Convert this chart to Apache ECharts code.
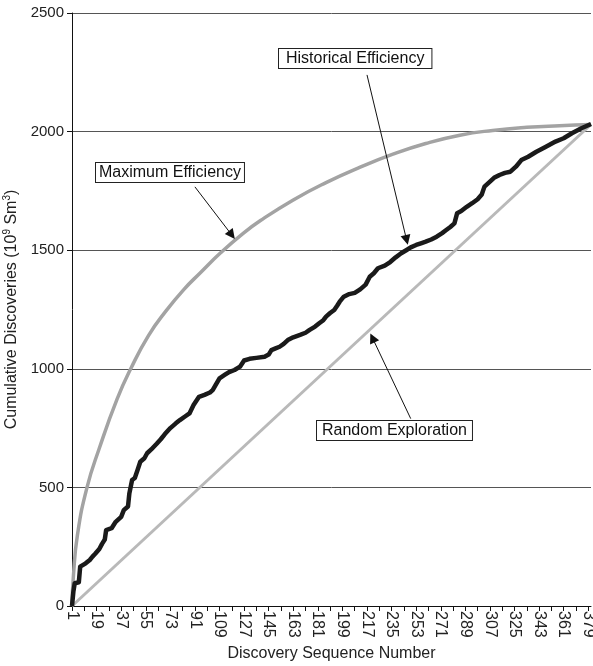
<!DOCTYPE html>
<html>
<head>
<meta charset="utf-8">
<script src="https://cdn.jsdelivr.net/npm/echarts@6/dist/echarts.min.js"></script>
<style>
  html, body { margin: 0; padding: 0; background: #fff; }
  #chart { width: 593px; height: 666px; }
</style>
</head>
<body>
<div id="chart"></div>
<script>
// discovery sequence numbers shown on the x axis (1 .. 381)
const seqNumbers = Array.from({ length: 381 }, (_, k) => String(k + 1))
const yTicks = [0, 500, 1000, 1500, 2000, 2500]

// [sequence number, cumulative discoveries]
const historical = [
  [1, 0], [2, 60], [3, 96], [6, 100], [7, 166], [11, 180], [14, 194], [16, 208],
  [18, 220], [21, 240], [23, 262], [25, 280], [26, 320], [30, 328], [33, 355],
  [37, 376], [39, 405], [42, 419], [43, 475], [45, 531], [47, 540], [49, 573],
  [51, 608], [54, 623], [56, 644], [59, 660], [63, 684], [66, 703], [69, 725],
  [73, 750], [77, 770], [80, 784], [84, 800], [87, 812], [90, 847], [94, 882],
  [98, 890], [102, 900], [104, 910], [106, 930], [109, 960], [113, 975],
  [116, 986], [120, 995], [124, 1009], [127, 1035], [131, 1042], [136, 1046],
  [142, 1051], [145, 1060], [147, 1079], [150, 1086], [153, 1093], [156, 1105],
  [159, 1121], [163, 1133], [168, 1143], [172, 1152], [175, 1164], [179, 1178],
  [182, 1192], [185, 1205], [187, 1220], [190, 1235], [193, 1248], [195, 1265],
  [197, 1283], [200, 1304], [204, 1315], [208, 1320], [212, 1335], [216, 1355],
  [219, 1388], [222, 1403], [225, 1424], [230, 1435], [234, 1450], [238, 1470],
  [242, 1487], [246, 1501], [249, 1512], [253, 1522], [257, 1530], [260, 1536],
  [264, 1545], [268, 1557], [272, 1572], [275, 1585], [278, 1598], [281, 1613],
  [283, 1656], [286, 1665], [290, 1683], [294, 1698], [298, 1715], [301, 1735],
  [303, 1768], [307, 1789], [310, 1805], [314, 1817], [318, 1826], [322, 1831],
  [326, 1852], [330, 1880], [335, 1894], [341, 1915], [348, 1936], [355, 1958],
  [361, 1972], [367, 1993], [374, 2014], [381, 2032]
]
const maxEfficiency = [
  [1, 0], [2, 124], [5, 300], [12, 500], [21, 665], [34, 872], [44, 1000],
  [57, 1140], [70, 1245], [83, 1335], [95, 1405], [110, 1490], [125, 1565],
  [139, 1625], [163, 1712], [187, 1785], [212, 1850], [236, 1905], [260, 1950],
  [285, 1985], [309, 2005], [334, 2018], [358, 2025], [381, 2030]
]
const randomExploration = [[1, 0], [381, 2030]]

// annotation arrows: [from, to] in [sequence number, value]
const arrows = [
  [[216.5, 2239], [246.2, 1543]],
  [[91, 1767], [118, 1564]],
  [[249, 790], [221, 1130]]
]

const toIdx = (arr) => arr.map((p) => [p[0] - 1, p[1]])

const chart = echarts.init(document.getElementById('chart'))
const font = '"Liberation Sans", Arial, sans-serif'

const boxText = (text, left, top, pad) => ({
  type: 'text',
  left: left,
  top: top,
  z: 100,
  style: {
    text: text,
    font: '16px ' + font,
    fill: '#111',
    backgroundColor: '#fff',
    borderColor: '#222',
    borderWidth: 1,
    padding: pad
  }
})

const option = {
  animation: false,
  backgroundColor: '#fff',
  grid: { left: 72, right: 2, top: 13, bottom: 60, containLabel: false, outerBoundsMode: 'none' },
  xAxis: {
    type: 'category',
    data: seqNumbers,
    boundaryGap: false,
    name: 'Discovery Sequence Number',
    nameLocation: 'middle',
    nameGap: 40,
    nameTextStyle: { fontFamily: font, fontSize: 16, color: '#222' },
    axisLine: { lineStyle: { color: '#111', width: 1 } },
    axisTick: { interval: 8, length: 5, lineStyle: { color: '#111' } },
    axisLabel: {
      interval: 17,
      rotate: -90,
      margin: 5,
      fontFamily: font,
      fontSize: 16,
      color: '#222'
    },
    splitLine: { show: false }
  },
  yAxis: {
    type: 'value',
    min: yTicks[0],
    max: yTicks[yTicks.length - 1],
    interval: 500,
    name: 'Cumulative Discoveries (10{sup|9} Sm{sup|3})',
    nameLocation: 'middle',
    nameRotate: 90,
    nameGap: 39,
    nameTextStyle: {
      fontFamily: font,
      fontSize: 16,
      color: '#222',
      rich: {
        sup: { fontFamily: font, fontSize: 10, color: '#222', verticalAlign: 'top', padding: [0, 0, 8, 0] }
      }
    },
    axisLine: { show: true, lineStyle: { color: '#111', width: 1 } },
    axisTick: { show: true, length: 5, lineStyle: { color: '#111' } },
    axisLabel: {
      margin: 8,
      fontFamily: font,
      fontSize: 15,
      color: '#222',
      formatter: (v) => String(v)
    },
    splitLine: { lineStyle: { color: '#555', width: 1 } }
  },
  series: [
    {
      name: 'Random Exploration',
      type: 'line',
      data: toIdx(randomExploration),
      showSymbol: false,
      lineStyle: { color: '#b9b9b9', width: 3 },
      z: 2,
      markLine: {
        silent: true,
        symbol: ['none', 'triangle'],
        symbolSize: 10,
        label: { show: false },
        lineStyle: { color: '#111', width: 1, type: 'solid' },
        itemStyle: { color: '#111' },
        data: arrows.map((a) => [
          { coord: [a[0][0] - 1, a[0][1]] },
          { coord: [a[1][0] - 1, a[1][1]] }
        ])
      }
    },
    {
      name: 'Maximum Efficiency',
      type: 'line',
      data: toIdx(maxEfficiency),
      smooth: true,
      showSymbol: false,
      lineStyle: { color: '#a3a3a3', width: 3.5 },
      z: 3
    },
    {
      name: 'Historical Efficiency',
      type: 'line',
      data: toIdx(historical),
      showSymbol: false,
      lineStyle: { color: '#1a1a1a', width: 4.5, join: 'round' },
      z: 4
    }
  ],
  graphic: [
    boxText('Historical Efficiency', 278, 48, [2, 7, 1, 7]),
    boxText('Maximum Efficiency', 95, 162, [2, 3, 1, 3]),
    boxText('Random Exploration', 316, 420, [2, 5, 1, 5])
  ]
}

chart.setOption(option)
</script>
</body>
</html>
